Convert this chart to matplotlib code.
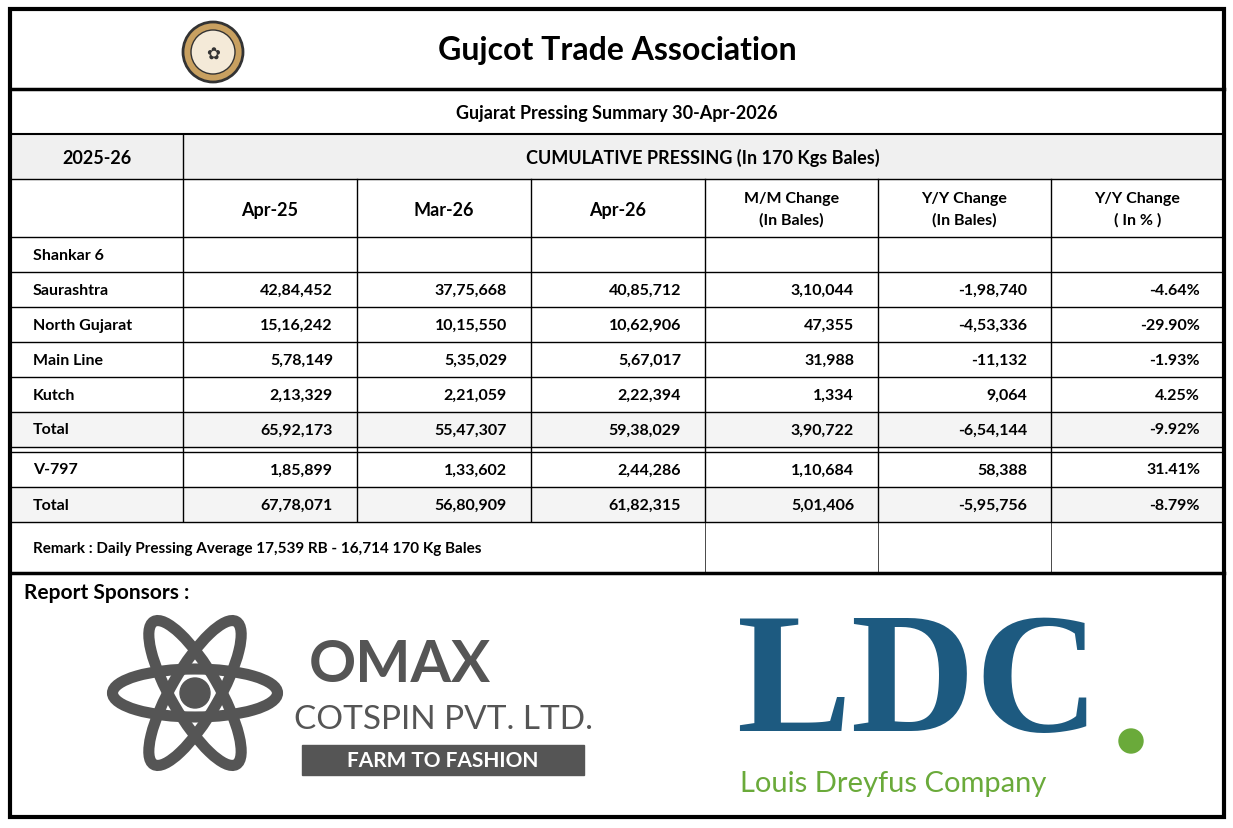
import matplotlib
matplotlib.use("Agg")
import matplotlib.pyplot as plt
from matplotlib.patches import Rectangle, Ellipse, Circle

plt.rcParams['font.family'] = ['Lato', 'DejaVu Sans']

title = "Gujcot Trade Association"
subtitle = "Gujarat Pressing Summary 30-Apr-2026"
season = "2025-26"
group_header = "CUMULATIVE PRESSING (In 170 Kgs Bales)"
col_headers = ["Apr-25", "Mar-26", "Apr-26", "M/M Change\n(In Bales)",
               "Y/Y Change\n(In Bales)", "Y/Y Change\n( In % )"]
row_labels = ["Shankar 6", "Saurashtra", "North Gujarat", "Main Line", "Kutch",
              "Total", "V-797", "Total"]
apr25 = ["", "42,84,452", "15,16,242", "5,78,149", "2,13,329", "65,92,173", "1,85,899", "67,78,071"]
mar26 = ["", "37,75,668", "10,15,550", "5,35,029", "2,21,059", "55,47,307", "1,33,602", "56,80,909"]
apr26 = ["", "40,85,712", "10,62,906", "5,67,017", "2,22,394", "59,38,029", "2,44,286", "61,82,315"]
mm_change = ["", "3,10,044", "47,355", "31,988", "1,334", "3,90,722", "1,10,684", "5,01,406"]
yy_change = ["", "-1,98,740", "-4,53,336", "-11,132", "9,064", "-6,54,144", "58,388", "-5,95,756"]
yy_pct = ["", "-4.64%", "-29.90%", "-1.93%", "4.25%", "-9.92%", "31.41%", "-8.79%"]
remark = "Remark : Daily Pressing Average 17,539 RB - 16,714 170 Kg Bales"

fig = plt.figure(figsize=(12.33, 8.29), dpi=100)
ax = fig.add_axes([0, 0, 1, 1])
ax.set_xlim(0, 1233)
ax.set_ylim(829, 0)
ax.axis('off')

xs = [10, 183, 357, 531, 705, 878, 1051, 1224]
row_tops = [238, 273, 308, 343, 378, 413, 453, 488]
row_h = 35

def hline(y, x0=10, x1=1224, lw=1):
    ax.plot([x0, x1], [y, y], color='black', lw=lw)

def vline(x, y0, y1, lw=1):
    ax.plot([x, x], [y0, y1], color='black', lw=lw)

# fills
ax.add_patch(Rectangle((10, 135), 1214, 45, color='#f0f0f0', zorder=0))
for i in (5, 7):
    ax.add_patch(Rectangle((10, row_tops[i]), 1214, row_h, color='#f4f4f4', zorder=0))

# title
ax.text(617, 50, title, ha='center', va='center', fontsize=23, fontweight='bold')
ax.add_patch(Circle((213, 53), 30, facecolor='#c8a060', edgecolor='#333', lw=2))
ax.add_patch(Circle((213, 53), 22, facecolor='#f4ead8', edgecolor='#333', lw=1))
ax.text(213, 55, "✿", ha='center', va='center', fontsize=12, color='#333')
hline(90, lw=2.5)
ax.text(617, 113, subtitle, ha='center', va='center', fontsize=13, fontweight='bold')
hline(135, lw=1.5)
ax.text(97, 158, season, ha='center', va='center', fontsize=13, fontweight='bold')
ax.text(703, 158, group_header, ha='center', va='center', fontsize=13, fontweight='bold')
hline(180)
vline(183, 135, 522)
for j, h in enumerate(col_headers):
    cx = (xs[j + 1] + xs[j + 2]) / 2
    fs = 13 if '\n' not in h else 11.5
    ax.text(cx, 210, h, ha='center', va='center', fontsize=fs, fontweight='bold',
            linespacing=1.6)
for x in xs[2:-1]:
    vline(x, 180, 522)
for x in xs[4:-1]:
    vline(x, 522, 574, lw=0.5)

hline(238)
cols = [apr25, mar26, apr26, mm_change, yy_change, yy_pct]
for i, lab in enumerate(row_labels):
    y = row_tops[i]
    hline(y + row_h)
    ax.text(33, y + row_h / 2, lab, ha='left', va='center', fontsize=11.5, fontweight='bold')
    for j, c in enumerate(cols):
        ax.text(xs[j + 2] - 24, y + row_h / 2, c[i], ha='right', va='center',
                fontsize=11.5, fontweight='bold')
hline(453)
ax.text(33, 549, remark, ha='left', va='center', fontsize=11, fontweight='bold')
hline(574, lw=2.5)

# sponsors
ax.text(24, 593, "Report Sponsors :", ha='left', va='center', fontsize=15, fontweight='bold')
# OMAX logo
for ang in (0, 60, 120):
    ax.add_patch(Ellipse((195, 694), 165, 48, angle=ang, fill=False,
                         edgecolor='#555', lw=8))
ax.add_patch(Circle((195, 694), 15, color='#555'))
ax.text(400, 665, "OMAX", ha='center', va='center', fontsize=42, fontweight='bold',
        color='#555')
ax.text(443, 720, "COTSPIN PVT. LTD.", ha='center', va='center', fontsize=24,
        color='#555')
ax.add_patch(Rectangle((302, 746), 282, 30, color='#555'))
ax.text(443, 761, "FARM TO FASHION", ha='center', va='center', fontsize=15,
        fontweight='bold', color='white')
# LDC logo
ax.text(736, 690, "LDC", ha='left', va='center', fontsize=124, color='#1d5a80',
        fontweight='bold', family=['Liberation Serif', 'DejaVu Serif'])
ax.add_patch(Circle((1131, 742), 12, color='#6aaa3a'))
ax.text(740, 784, "Louis Dreyfus Company", ha='left', va='center', fontsize=21,
        color='#6aaa3a')

ax.add_patch(Rectangle((10, 10), 1214, 808, fill=False, edgecolor='black', lw=3))

fig.savefig("out.png", dpi=100)
